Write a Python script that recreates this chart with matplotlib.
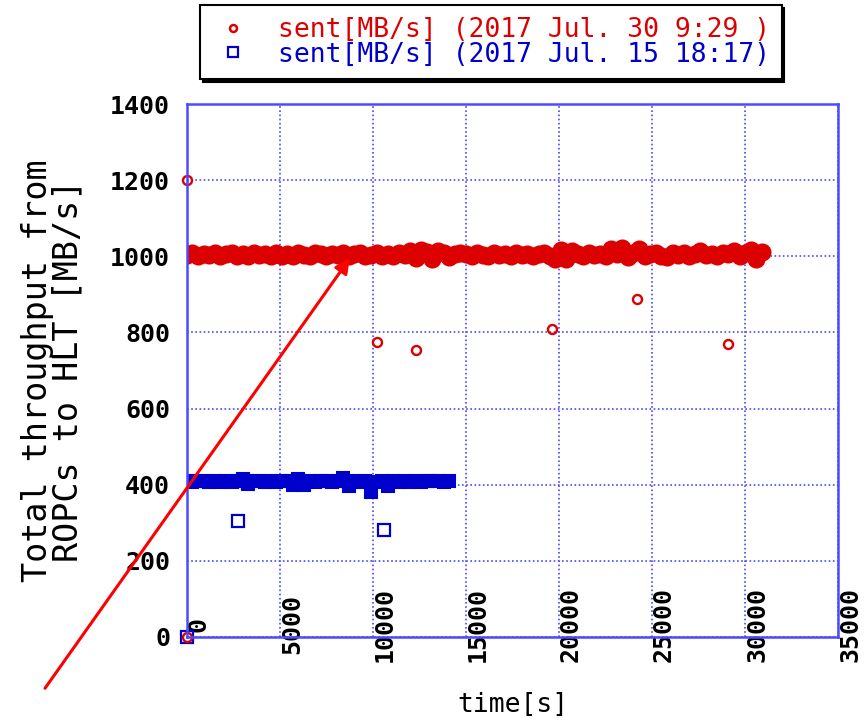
import matplotlib
matplotlib.use("Agg")
import matplotlib.pyplot as plt
from matplotlib.lines import Line2D

plt.rcParams['font.family'] = ['DejaVu Sans Mono', 'DejaVu Sans']

# sent [MB/s], 2017 Jul. 30 9:29 (red, circles)
red_t = [0, 300, 600, 900, 1200, 1500, 1800, 2100, 2400, 2700,
         3000, 3300, 3600, 3900, 4200, 4500, 4800, 5100, 5400, 5700,
         6000, 6300, 6600, 6900, 7200, 7500, 7800, 8100, 8400, 8700,
         9000, 9300, 9600, 9900, 10200, 10500, 10800, 11100, 11400, 11700,
         12000, 12300, 12600, 12900, 13200, 13500, 13800, 14100, 14400, 14700,
         15000, 15300, 15600, 15900, 16200, 16500, 16800, 17100, 17400, 17700,
         18000, 18300, 18600, 18900, 19200, 19500, 19800, 20100, 20400, 20700,
         21000, 21300, 21600, 21900, 22200, 22500, 22800, 23100, 23400, 23700,
         24000, 24300, 24600, 24900, 25200, 25500, 25800, 26100, 26400, 26700,
         27000, 27300, 27600, 27900, 28200, 28500, 28800, 29100, 29400, 29700,
         30000, 30300, 30600, 30900]
red_v = [1004, 1008, 1001, 1007, 1003, 1009, 1000, 1006, 1008, 1002,
         1006, 1000, 1008, 1003, 1007, 1001, 1009, 1002, 1006, 1000,
         1008, 1003, 1000, 1009, 1005, 1001, 1007, 1003, 1009, 1000,
         1006, 1008, 1001, 1004, 1008, 1002, 1007, 1000, 1009, 1003,
         1014, 996, 1017, 1012, 994, 1015, 1009, 998, 1006, 1008,
         1007, 1001, 1008, 1004, 1001, 1008, 1003, 1006, 1000, 1009,
         1003, 1007, 1001, 1006, 1008, 1002, 994, 1018, 992, 1015,
         1007, 1000, 1009, 1003, 1007, 1002, 1020, 1006, 1021, 997,
         1008, 1019, 1001, 1006, 1009, 1002, 999, 1008, 1004, 1008,
         1001, 1007, 1015, 1003, 1007, 1000, 1009, 1005, 1014, 1001,
         1008, 1018, 994, 1012]
red_out_t = [0, 0, 10200, 12300, 19600, 24200, 29100]
red_out_v = [1200, 0, 776, 753, 810, 889, 771]

# sent [MB/s], 2017 Jul. 15 18:17 (blue, squares)
blue_t = [0, 300, 600, 900, 1200, 1500, 1800, 2100, 2400, 2700,
          3000, 3300, 3600, 3900, 4200, 4500, 4800, 5100, 5400, 5700,
          6000, 6300, 6600, 6900, 7200, 7500, 7800, 8100, 8400, 8700,
          9000, 9300, 9600, 9900, 10200, 10500, 10800, 11100, 11400, 11700,
          12000, 12300, 12600, 12900, 13200, 13500, 13800, 14100]
blue_v = [410, 408, 411, 409, 407, 410, 408, 409, 407, 411,
          416, 402, 409, 410, 408, 410, 407, 409, 411, 398,
          414, 398, 409, 408, 410, 409, 407, 410, 418, 397,
          410, 408, 411, 381, 407, 409, 397, 410, 408, 410,
          408, 410, 407, 411, 409, 409, 408, 410]
blue_out_t = [2740, 10590, 0]
blue_out_v = [305, 282, 0]

red = '#dd0000'
blue = '#0000cc'
axis_blue = '#4a4aff'

fig = plt.figure(figsize=(8.65, 7.23), dpi=100)
ax = fig.add_axes([0.216, 0.119, 0.753, 0.737])

# dense runs: overlapping markers read as a solid band
ax.plot(blue_t, blue_v, ls='none', marker='s', ms=9, mfc=blue, mec=blue, mew=1.5)
ax.plot(blue_out_t, blue_out_v, ls='none', marker='s', ms=8.5, mfc='none', mec=blue,
        mew=1.6, clip_on=False)
ax.plot(red_t, red_v, ls='none', marker='o', ms=11.5, mfc=red, mec=red, mew=1.5)
ax.plot(red_out_t, red_out_v, ls='none', marker='o', ms=6.5, mfc='none', mec=red,
        mew=1.7, clip_on=False)

ax.set_xlim(0, 35000)
ax.set_ylim(0, 1400)
ax.set_xticks(range(0, 35001, 5000))
ax.set_yticks(range(0, 1401, 200))

ax.grid(True, color=axis_blue, ls=(0, (1, 1.5)), lw=1.2)
for s in ax.spines.values():
    s.set_color(axis_blue)
    s.set_linewidth(1.8)

ax.tick_params(axis='both', length=0, labelsize=18)
ax.tick_params(axis='y', pad=12)
ax.tick_params(axis='x', pad=-9)
for lab in ax.get_xticklabels() + ax.get_yticklabels():
    lab.set_fontweight('bold')
for lab in ax.get_xticklabels():
    lab.set_rotation(90)
    lab.set_ha('left')
    lab.set_va('center')

ax.set_ylabel('Total throughput from\nROPCs to HLT [MB/s]', fontsize=24,
              linespacing=0.9)
ax.yaxis.set_label_coords(-0.158, 0.5)
xl = ax.set_xlabel('time[s]', fontsize=19)
xl.set_va('center')
ax.xaxis.set_label_coords(0.5, -0.128)

handles = [
    Line2D([], [], ls='none', marker='o', ms=5, mfc='none', mec=red, mew=1.8),
    Line2D([], [], ls='none', marker='s', ms=7, mfc='none', mec=blue, mew=1.6),
]
labels = ['sent[MB/s] (2017 Jul. 30 9:29 )', 'sent[MB/s] (2017 Jul. 15 18:17)']
leg = fig.legend(handles, labels, loc='upper left', bbox_to_anchor=(0.231, 0.993),
                 fontsize=19, frameon=True, fancybox=False, edgecolor='black',
                 shadow={'color': 'black', 'alpha': 1}, labelspacing=-0.05,
                 handletextpad=0.9, borderpad=0.45, handlelength=1.6,
                 borderaxespad=0)
leg.get_frame().set_linewidth(1.5)
for txt, c in zip(leg.get_texts(), [red, blue]):
    txt.set_color(c)

# red pointer arrow
ax.annotate('', xy=(8760, 995), xycoords='data',
            xytext=(0.052, 0.048), textcoords='figure fraction',
            arrowprops=dict(arrowstyle='-|>', color='red', lw=2.2,
                            mutation_scale=22, shrinkA=0, shrinkB=0),
            annotation_clip=False)

fig.savefig('out.png', dpi=100)
